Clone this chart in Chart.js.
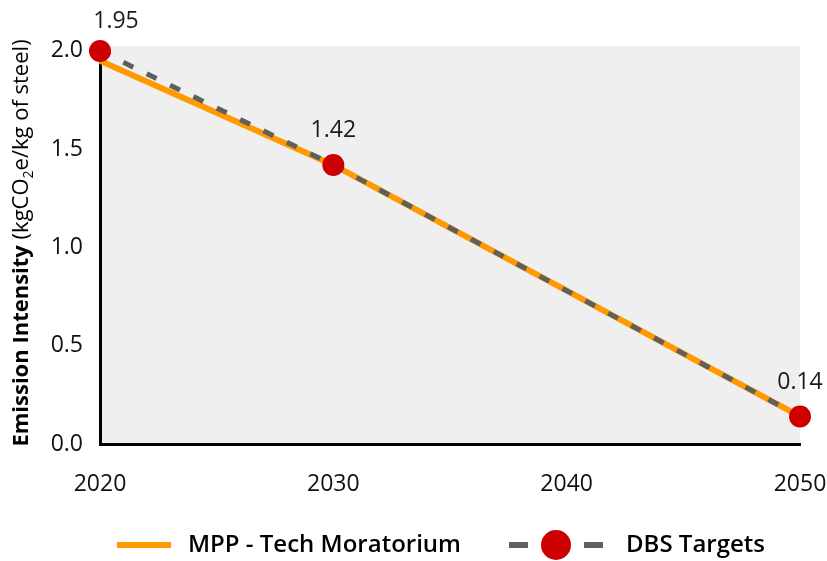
<!DOCTYPE html>
<html>
<head>
<meta charset="utf-8">
<script src="https://cdn.jsdelivr.net/npm/chart.js@4/dist/chart.umd.min.js"></script>
<style>
  html, body { margin: 0; padding: 0; background: #fff; }
  #wrap { width: 827px; height: 561px; }
</style>
</head>
<body>
<div id="wrap"><canvas id="emissionChart"></canvas></div>
<script>
// data
const mppYears = [2020, 2025, 2030, 2035, 2040, 2045, 2050];
const mppValues = [1.95, 1.685, 1.42, 1.10, 0.78, 0.46, 0.14];
const dbsYears = [2020, 2030, 2050];
const dbsValues = [2.0, 1.42, 0.14];
const dbsLabels = ['1.95', '1.42', '0.14'];
const xTicks = [2020, 2030, 2040, 2050];
const yTicks = [0, 0.5, 1.0, 1.5, 2.0];

const ORANGE = '#ff9900';
const GREY = '#5f5f5f';
const RED = '#cc0000';
const FONT = "'Open Sans', 'Noto Sans', sans-serif";
const LEGEND_BOX = 141;

// legend samples drawn on small canvases, used as point styles
function orangeSample() {
    const c = document.createElement('canvas');
    c.width = LEGEND_BOX; c.height = 32;
    const g = c.getContext('2d');
    g.fillStyle = ORANGE;
    g.fillRect(82, 13, 54, 6);
    return c;
}

function dbsSample() {
    const c = document.createElement('canvas');
    c.width = LEGEND_BOX; c.height = 32;
    const g = c.getContext('2d');
    g.fillStyle = GREY;
    g.fillRect(36, 13, 19, 6);
    g.fillRect(111, 13, 19, 6);
    g.fillStyle = RED;
    g.beginPath();
    g.arc(83, 16, 15, 0, Math.PI * 2);
    g.fill();
    return c;
}

const plotBackground = {
    id: 'plotBackground',
    beforeDraw(chart) {
        const {ctx, chartArea: a} = chart;
        ctx.save();
        ctx.fillStyle = '#efefef';
        ctx.fillRect(a.left, a.top, a.right - a.left, a.bottom - a.top);
        ctx.restore();
    }
};

// y title has a bold part, a regular part and a subscript
const yTitle = {
    id: 'yTitle',
    afterDraw(chart) {
        const {ctx, chartArea: a} = chart;
        const parts = [
            {t: 'Emission Intensity ', f: 'bold 22px ' + FONT, dy: 0},
            {t: '(kgCO', f: '22px ' + FONT, dy: 0},
            {t: '2', f: '14px ' + FONT, dy: 5},
            {t: 'e/kg of steel)', f: '22px ' + FONT, dy: 0}
        ];
        ctx.save();
        let total = 0;
        parts.forEach(p => { ctx.font = p.f; p.w = ctx.measureText(p.t).width; total += p.w; });
        ctx.translate(27.5, (a.top + a.bottom) / 2 - 2);
        ctx.rotate(-Math.PI / 2);
        ctx.fillStyle = '#000';
        ctx.textBaseline = 'alphabetic';
        let x = -total / 2;
        parts.forEach(p => {
            ctx.font = p.f;
            ctx.fillText(p.t, x, p.dy);
            x += p.w;
        });
        ctx.restore();
    }
};

const pointLabels = {
    id: 'pointLabels',
    afterDatasetsDraw(chart) {
        const {ctx} = chart;
        const meta = chart.getDatasetMeta(1);
        const shift = [[16, 5], [0, 0], [0, 0]];
        ctx.save();
        ctx.font = '23px ' + FONT;
        ctx.fillStyle = '#1a1a1a';
        ctx.textAlign = 'center';
        ctx.textBaseline = 'middle';
        meta.data.forEach((pt, i) => {
            ctx.fillText(dbsLabels[i], pt.x + shift[i][0], pt.y - 34 + shift[i][1]);
        });
        ctx.restore();
    }
};

const ctx = document.getElementById('emissionChart').getContext('2d');

new Chart(ctx, {
    type: 'line',
    data: {
        datasets: [{
            label: 'MPP - Tech Moratorium',
            data: mppYears.map((y, i) => ({x: y, y: mppValues[i]})),
            borderColor: ORANGE,
            borderWidth: 6,
            pointRadius: 0,
            fill: false,
            tension: 0,
            clip: false,
            order: 2
        }, {
            label: 'DBS Targets',
            data: dbsYears.map((y, i) => ({x: y, y: dbsValues[i]})),
            borderColor: GREY,
            borderWidth: 5,
            borderDash: [11, 15],
            pointRadius: 11,
            pointBackgroundColor: RED,
            pointBorderWidth: 0,
            fill: false,
            tension: 0,
            clip: false,
            order: 1
        }]
    },
    options: {
        responsive: true,
        maintainAspectRatio: false,
        animation: false,
        layout: {
            padding: {top: 46, right: 0, left: 23, bottom: 0}
        },
        plugins: {
            tooltip: {enabled: false},
            legend: {
                position: 'bottom',
                align: 'start',
                maxHeight: 40,
                labels: {
                    usePointStyle: true,
                    pointStyleWidth: LEGEND_BOX,
                    padding: 12,
                    color: '#111',
                    font: {family: FONT, size: 24, weight: '600'},
                    generateLabels: () => [
                        {text: 'MPP - Tech Moratorium', pointStyle: orangeSample(), datasetIndex: 0, lineWidth: 0},
                        {text: 'DBS Targets', pointStyle: dbsSample(), datasetIndex: 1, lineWidth: 0}
                    ]
                }
            }
        },
        scales: {
            x: {
                type: 'linear',
                min: 2020,
                max: 2050,
                afterBuildTicks: (scale) => { scale.ticks = xTicks.map(v => ({value: v})); },
                afterFit: (scale) => {
                    scale.height = 77;
                    scale.paddingLeft = 0;
                    scale.paddingRight = 27;
                },
                grid: {display: false, drawTicks: false},
                border: {display: true, color: '#000', width: 3},
                ticks: {
                    padding: 27,
                    color: '#111',
                    font: {family: FONT, size: 23},
                    callback: (v) => String(v)
                }
            },
            y: {
                min: 0,
                max: 2.025,
                afterBuildTicks: (scale) => { scale.ticks = yTicks.map(v => ({value: v})); },
                afterFit: (scale) => { scale.width = 77; },
                grid: {display: false, drawTicks: false},
                border: {display: true, color: '#000', width: 3},
                ticks: {
                    padding: 17,
                    color: '#111',
                    font: {family: FONT, size: 23},
                    callback: (v) => v.toFixed(1)
                }
            }
        }
    },
    plugins: [plotBackground, yTitle, pointLabels]
});
</script>
</body>
</html>
